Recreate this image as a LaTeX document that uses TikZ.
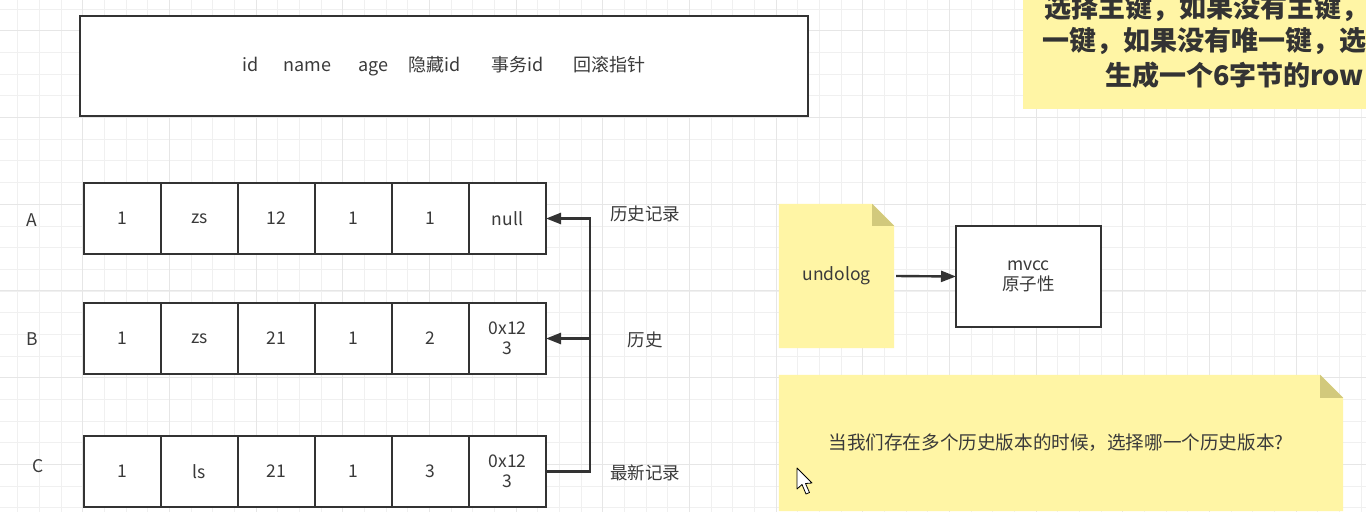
\documentclass[tikz,border=0pt]{standalone}
\usepackage{fontspec}
\setmainfont{Noto Sans CJK SC}
\usetikzlibrary{arrows.meta,backgrounds}
\definecolor{notefill}{HTML}{FFF5A5}
\definecolor{notefold}{HTML}{D2C97C}
\definecolor{ink}{HTML}{333333}
\definecolor{txt}{HTML}{3A3A3A}
\definecolor{gridminor}{HTML}{F0F0F0}
\definecolor{gridmajor}{HTML}{E6E6E6}
\tikzset{
  box/.style={draw=ink, line width=2.4pt, fill=white, text=txt, align=center, inner sep=0pt, outer sep=0pt},
  cell/.style={box, minimum width=77pt, minimum height=71pt, font=\fontsize{17.5}{20}\selectfont},
  lbl/.style={text=txt, inner sep=0pt, font=\fontsize{17.5}{20}\selectfont},
  notenode/.style={inner sep=0pt, text=txt, font=\fontsize{17.5}{20}\selectfont},
  arr/.style={draw=ink, line width=2.4pt, -{Triangle[length=15pt,width=11pt]}},
  plain/.style={draw=ink, line width=2.4pt}
}
\begin{document}
\begin{tikzpicture}[x=1pt,y=-1pt]
\useasboundingbox (0,0) rectangle (1366,512);
\clip (0,0) rectangle (1366,512);
\begin{pgfonlayer}{background}
\fill[white] (0,0) rectangle (1366,512);
% grid
\foreach \i in {0,...,63} {
  \draw[gridminor, line width=1pt] (17.7+21.67*\i,0) -- (17.7+21.67*\i,512);
}
\foreach \j in {0,...,24} {
  \draw[gridminor, line width=1pt] (0,9.3+21.67*\j) -- (1366,9.3+21.67*\j);
}
\foreach \i in {0,...,15} {
  \draw[gridmajor, line width=1pt] (82.7+86.68*\i-86.68,0) -- (82.7+86.68*\i-86.68,512);
}
\foreach \j in {0,...,6} {
  \draw[gridmajor, line width=1pt] (0,30.9+86.68*\j) -- (1366,30.9+86.68*\j);
}
\end{pgfonlayer}

% header box
\node[box, minimum width=728pt, minimum height=100pt, font=\fontsize{18}{20}\selectfont] (hdr) at (444,66)
  {id\hspace{25pt}name\hspace{27pt}age\hspace{20pt}隐藏id\hspace{31pt}事务id\hspace{30pt}回滚指针};

% rows
\foreach \r/\y/\vals in {A/218.5/{1,zs,12,1,1,null}, B/338.5/{1,zs,21,1,2,{0x12\\3}}, C/471.5/{1,ls,21,1,3,{0x12\\3}}}{
  \foreach \v [count=\i] in \vals {
    \node[cell] (\r\i) at (45.5+77*\i,\y) {\v};
  }
}
\node[lbl] (la) at (32,220) {A};
\node[lbl] (lb) at (32,339) {B};
\node[lbl] (lc) at (38,466) {C};

% connectors
\coordinate (bus) at (590,0);
\draw[arr] (C6.east) -- (C6.east -| bus) |- (A6.east);
\draw[arr] (B6.east -| bus) -- (B6.east);

\node[lbl] (ta) at (645,214) {历史记录};
\node[lbl] (tb) at (645,340) {历史};
\node[lbl] (tc) at (645,473) {最新记录};

% undolog note
\node[notenode, minimum width=115pt, minimum height=144pt] (undo) at (836.5,276) {undolog};
\begin{pgfonlayer}{background}
\fill[notefill] (undo.south west) -- (undo.north west) -- ([xshift=-22pt]undo.north east) -- ([yshift=-22pt]undo.north east) -- (undo.south east) -- cycle;
\fill[notefold] ([xshift=-22pt]undo.north east) -- ([yshift=-22pt]undo.north east) -- ([xshift=-22pt,yshift=-22pt]undo.north east) -- cycle;
\end{pgfonlayer}

% mvcc box
\node[box, minimum width=145pt, minimum height=101pt, font=\fontsize{17.5}{20}\selectfont] (mvcc) at (1028.5,276.5) {mvcc\\原子性};
\draw[arr] ([xshift=2pt]undo.east) -- (mvcc.west);

% question note
\node[notenode, minimum width=564pt, minimum height=136pt] (q) at (1061,443) {};
\node[notenode, font=\fontsize{18.6}{20}\selectfont] (qt) at (1056,443) {当我们存在多个历史版本的时候，选择哪一个历史版本?};
\begin{pgfonlayer}{background}
\fill[notefill] (q.south west) -- (q.north west) -- ([xshift=-23pt]q.north east) -- ([yshift=-23pt]q.north east) -- (q.south east) -- cycle;
\fill[notefold] ([xshift=-23pt]q.north east) -- ([yshift=-23pt]q.north east) -- ([xshift=-23pt,yshift=-23pt]q.north east) -- cycle;
\end{pgfonlayer}

% top-right note (cut off)
\begin{pgfonlayer}{background}
\fill[notefill] (1023,-5) rectangle (1370,109);
\end{pgfonlayer}
\node[notenode, anchor=west, text=ink, font=\fontsize{27}{30}\bfseries\selectfont] (n1) at (1044,8) {选择主键，如果没有主键，};
\node[notenode, anchor=west, text=ink, font=\fontsize{27}{30}\bfseries\selectfont] (n2) at (1042,41) {一键，如果没有唯一键，选};
\node[notenode, anchor=west, text=ink, font=\fontsize{27}{30}\bfseries\selectfont] (n3) at (1105,75) {生成一个6字节的row};

% mouse cursor
\filldraw[fill=white, draw=black, line width=0.8pt, line join=round]
  (797,468) -- (797,489) -- (802,484.5) -- (806,494) -- (809.5,492.5) -- (805.5,483.5) -- (812,483) -- cycle;
\end{tikzpicture}
\end{document}
